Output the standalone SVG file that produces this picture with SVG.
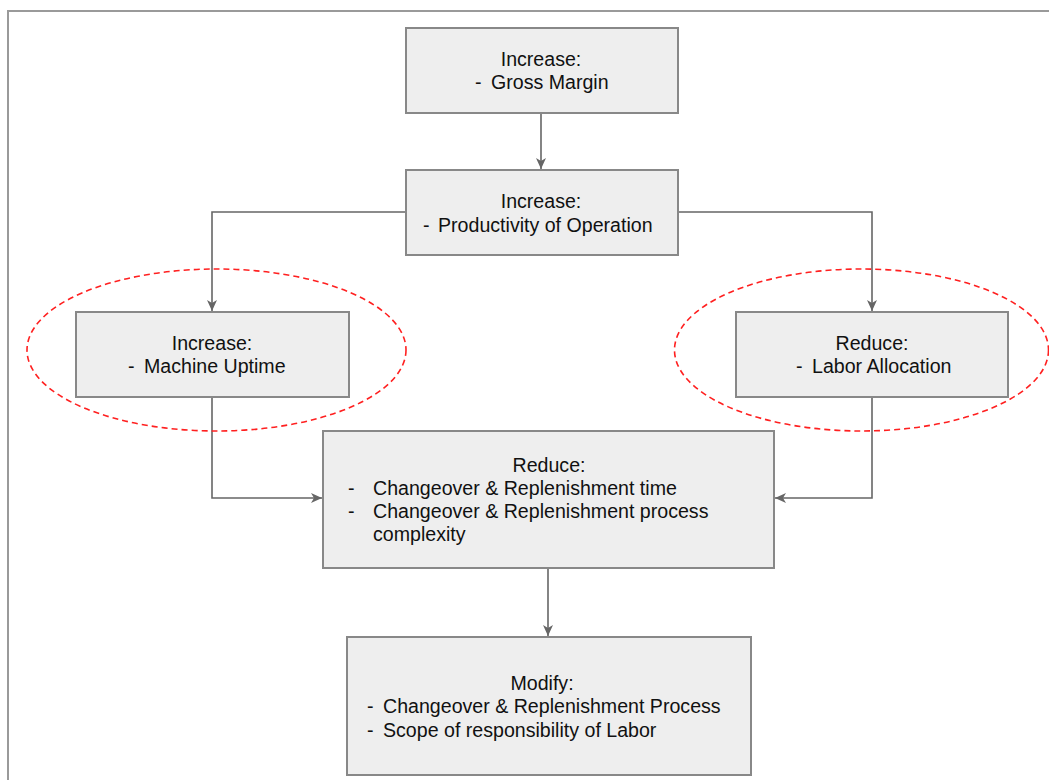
<svg xmlns="http://www.w3.org/2000/svg" width="1049" height="780" viewBox="0 0 1049 780">
<style>
.box{fill:#eeeeee;stroke:#888888;stroke-width:2}
.t{font-family:"Liberation Sans",Arial,sans-serif;font-size:19.6px;fill:#111111}
.c{text-anchor:middle}
.conn{fill:none;stroke:#666666;stroke-width:1.6}
.hl{fill:none;stroke:#ff2020;stroke-width:1.6;stroke-dasharray:6 4}
</style>
<defs>
<marker id="arr" markerWidth="12" markerHeight="12" viewBox="0 0 12 12" refX="11" refY="6" orient="auto" markerUnits="userSpaceOnUse">
<path d="M0,1 L11,6 L0,11 L3,6 z" fill="#666666"/>
</marker>
</defs>
<rect x="0" y="0" width="1049" height="780" fill="#ffffff"/>
<rect x="8" y="11" width="1060" height="800" fill="none" stroke="#9a9a9a" stroke-width="2"/>
<g id="connectors">
<path class="conn" d="M541,113 L541,169" marker-end="url(#arr)"/>
<path class="conn" d="M405,212 L212,212 L212,311" marker-end="url(#arr)"/>
<path class="conn" d="M678,212 L872,212 L872,311" marker-end="url(#arr)"/>
<path class="conn" d="M212,397 L212,498 L322,498" marker-end="url(#arr)"/>
<path class="conn" d="M872,397 L872,498 L775,498" marker-end="url(#arr)"/>
<path class="conn" d="M548,568 L548,636" marker-end="url(#arr)"/>
</g>
<g id="n1">
<rect class="box" x="406" y="28" width="272" height="85"/>
<text class="t c" x="541" y="66">Increase:</text>
<text class="t" x="475" y="89">-</text>
<text class="t" x="491" y="89">Gross Margin</text>
</g>
<g id="n2">
<rect class="box" x="406" y="170" width="272" height="85"/>
<text class="t c" x="541" y="208">Increase:</text>
<text class="t" x="423" y="232">-</text>
<text class="t" x="438" y="232">Productivity of Operation</text>
</g>
<g id="n3">
<rect class="box" x="76" y="312" width="273" height="85"/>
<text class="t c" x="212" y="350">Increase:</text>
<text class="t" x="128" y="373">-</text>
<text class="t" x="144" y="373">Machine Uptime</text>
</g>
<g id="n4">
<rect class="box" x="736" y="312" width="272" height="85"/>
<text class="t c" x="872" y="350">Reduce:</text>
<text class="t" x="796" y="373">-</text>
<text class="t" x="812" y="373">Labor Allocation</text>
</g>
<g id="n5">
<rect class="box" x="323" y="431" width="451" height="137"/>
<text class="t c" x="549" y="472">Reduce:</text>
<text class="t" x="348" y="495">-</text>
<text class="t" x="373" y="495">Changeover &amp; Replenishment time</text>
<text class="t" x="348" y="518">-</text>
<text class="t" x="373" y="518">Changeover &amp; Replenishment process</text>
<text class="t" x="373" y="541">complexity</text>
</g>
<g id="n6">
<rect class="box" x="347" y="637" width="404" height="138"/>
<text class="t c" x="542" y="690">Modify:</text>
<text class="t" x="367" y="713">-</text>
<text class="t" x="383" y="713">Changeover &amp; Replenishment Process</text>
<text class="t" x="367" y="737">-</text>
<text class="t" x="383" y="737">Scope of responsibility of Labor</text>
</g>
<g id="highlights">
<ellipse class="hl" cx="216.5" cy="350" rx="189.5" ry="81"/>
<ellipse class="hl" cx="861.5" cy="350" rx="187" ry="81"/>
</g>
</svg>
